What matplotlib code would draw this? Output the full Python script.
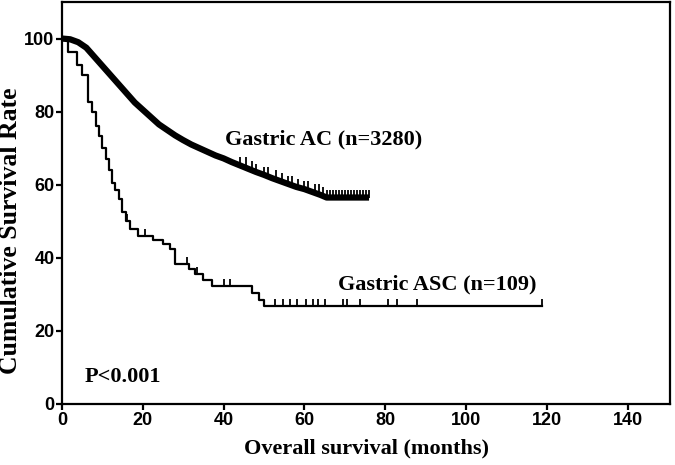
import matplotlib
matplotlib.use("Agg")
import matplotlib.pyplot as plt

# Gastric AC (n=3280): survival curve (months, %)
ac_time = [0, 2, 4, 6, 8, 10, 12, 14, 16, 18, 20, 22, 24, 26, 28, 30, 32, 34,
           36, 38, 40, 42, 44, 46, 48, 50, 52, 54, 56, 58, 60, 62, 64, 65.5, 76]
ac_surv = [100, 99.8, 99, 97.5, 95, 92.5, 90, 87.5, 85, 82.5, 80.5, 78.5,
           76.5, 75, 73.5, 72.2, 71, 70, 69, 68, 67.2, 66.2, 65.3, 64.4, 63.5,
           62.7, 61.8, 61, 60.2, 59.4, 58.8, 58, 57.2, 56.5, 56.5]
ac_censor = [44, 45.5, 47, 48, 50, 51, 53, 54.5, 56, 57, 58.5, 60, 61, 62.5,
             63.5, 64.5, 65.5, 66.3, 67, 67.8, 68.5, 69.3, 70, 70.8, 71.5,
             72.3, 73, 73.8, 74.5, 75.3, 76]

# Gastric ASC (n=109)
asc_time = [0, 1.6, 3.6, 4.9, 6.5, 7.5, 8.3, 9.2, 10, 10.8, 11.6, 12.4, 13.2,
            14, 14.8, 15.8, 16.8, 18.8, 22.5, 25, 26.7, 28, 31.5, 32.8, 35, 37,
            47, 48.8, 50, 118.8]
asc_surv = [100, 96.3, 92.7, 89.9, 82.6, 80, 76, 73.4, 70, 67, 64, 60.5,
            58.5, 56, 52.5, 50, 48, 46, 45, 43.7, 42.3, 38.3, 37, 35.5, 34,
            32.2, 30.5, 28.5, 26.8, 26.8]
asc_censor = [16, 20.5, 31, 33.4, 40, 41.6, 52.7, 54.8, 56.4, 58.1, 60.5, 62.2,
              63.4, 65.1, 69.6, 70.5, 73.8, 80.8, 82.9, 87.8, 118.8]

x_ticks = [0, 20, 40, 60, 80, 100, 120, 140]
y_ticks = [0, 20, 40, 60, 80, 100]


def surv_at(times, values, t):
    v = values[0]
    for ti, vi in zip(times, values):
        if ti <= t:
            v = vi
    return v


fig = plt.figure(figsize=(6.75, 4.65), dpi=100)
ax = fig.add_axes([0.0919, 0.1312, 0.9007, 0.8645])

# dense censoring makes the big cohort look like a thick smooth band
ax.plot(ac_time, ac_surv, color="black", lw=4.5, solid_capstyle="butt")
ax.plot(ac_censor, [surv_at(ac_time, ac_surv, t) for t in ac_censor],
        linestyle="none", marker=2, markersize=6, markeredgewidth=1.3,
        color="black")

ax.step(asc_time, asc_surv, where="post", color="black", lw=1.6)
ax.plot(asc_censor, [surv_at(asc_time, asc_surv, t) for t in asc_censor],
        linestyle="none", marker=2, markersize=5, markeredgewidth=1.3,
        color="black")

serif = ["Liberation Serif", "DejaVu Serif"]
tickfont = ["Liberation Sans", "DejaVu Sans"]

ax.text(40.4, 72.5, "Gastric AC (n=3280)", family=serif, fontweight="bold",
        fontsize=16, va="center", ha="left")
ax.text(68.3, 32.7, "Gastric ASC (n=109)", family=serif, fontweight="bold",
        fontsize=16, va="center", ha="left")
ax.text(5.7, 7.4, "P<0.001", family=serif, fontweight="bold",
        fontsize=16, va="center", ha="left")

ax.set_xlim(0, 150.5)
ax.set_ylim(0, 110)
ax.set_xticks(x_ticks)
ax.set_yticks(y_ticks)
for lab in ax.get_xticklabels() + ax.get_yticklabels():
    lab.set_family(tickfont)
    lab.set_fontweight("bold")
    lab.set_fontsize(13)

ax.set_xlabel("Overall survival (months)", family=serif, fontweight="bold",
              fontsize=16)
ax.set_ylabel("Cumulative Survival Rate", family=serif, fontweight="bold",
              fontsize=18.5)
ax.xaxis.set_label_coords(0.5, -0.085)
ax.yaxis.set_label_coords(-0.066, 0.43)

for s in ax.spines.values():
    s.set_linewidth(1.6)
ax.tick_params(direction="out", length=4, width=1.6, pad=1.5)

fig.savefig("out.png", dpi=100)
